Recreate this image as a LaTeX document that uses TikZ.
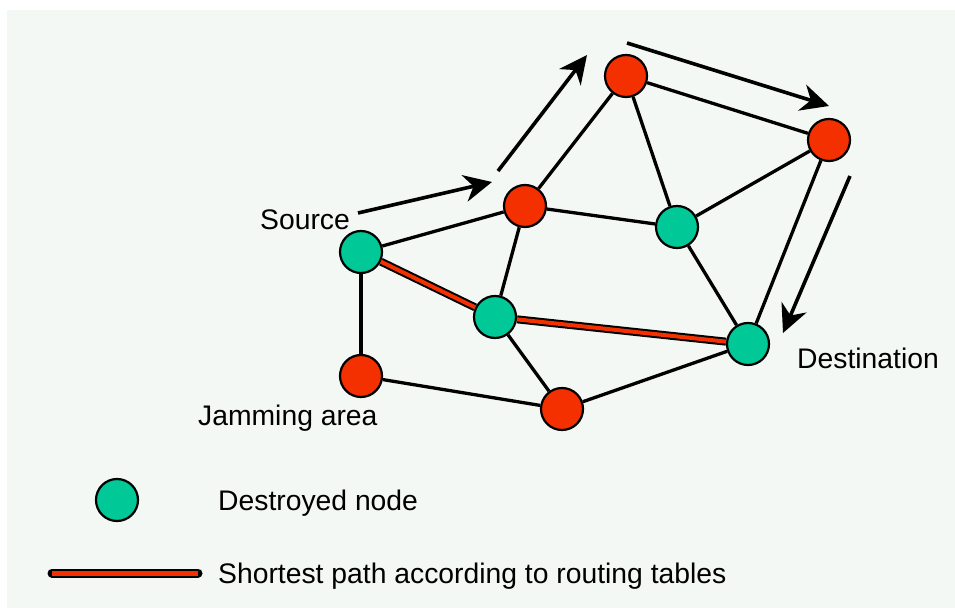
\documentclass[tikz,border=0pt]{standalone}
\usepackage{fontspec}
\setmainfont{Liberation Sans}
\usepackage{xcolor}
\usetikzlibrary{arrows.meta, positioning, calc}

\definecolor{jamred}{HTML}{F53000}
\definecolor{deadgreen}{HTML}{00C896}
\definecolor{paper}{HTML}{F4F8F4}

\begin{document}
\begin{tikzpicture}[
    x=1pt, y=-1pt,
    font=\fontsize{28.3}{34}\selectfont,
    alive/.style={circle, draw, line width=2.2pt, fill=jamred, minimum size=42pt, inner sep=0pt},
    destroyed/.style={alive, fill=deadgreen},
    link/.style={line width=3.3pt},
    route/.style={line width=8pt, black},
    routein/.style={line width=4pt, jamred},
    flow/.style={-{Stealth[length=28pt, width=27pt, inset=9pt]}, line width=3.6pt},
    label/.style={anchor=base west, inner sep=0pt}
]
\useasboundingbox (0,0) rectangle (955,609);
\fill[paper] (7,10) rectangle (955,608);

% Network
\node[destroyed] (src) at (361,252) {};
\node[alive] (jam) at (361,376) {};
\node[alive] (low) at (562,409) {};
\node[destroyed] (mid) at (495,317) {};
\node[alive] (up) at (525,206) {};
\node[alive] (top) at (626,76) {};
\node[destroyed] (cen) at (677,227) {};
\node[alive] (rgt) at (829,140) {};
\node[destroyed] (dst) at (748,344) {};

\draw[link] (src) -- (up);
\draw[link] (src) -- (jam);
\draw[link] (mid) -- (up);
\draw[link] (mid) -- (low);
\draw[link] (jam) -- (low);
\draw[link] (low) -- (dst);
\draw[link] (up) -- (top);
\draw[link] (up) -- (cen);
\draw[link] (top) -- (cen);
\draw[link] (top) -- (rgt);
\draw[link] (cen) -- (rgt);
\draw[link] (cen) -- (dst);
\draw[link] (rgt) -- (dst);

% Shortest path
\draw[route] (src) -- (mid);
\draw[route] (mid) -- (dst);
\draw[routein] (src) -- (mid);
\draw[routein] (mid) -- (dst);

% Detour arrows
\coordinate (a1s) at (358,213);
\coordinate (a1e) at (492,182);
\coordinate (a2s) at (498,171);
\coordinate (a2e) at (587,55);
\coordinate (a3s) at (627,43);
\coordinate (a3e) at (829,106);
\coordinate (a4s) at (850,176);
\coordinate (a4e) at (783,333);
\draw[flow] (a1s) -- (a1e);
\draw[flow] (a2s) -- (a2e);
\draw[flow] (a3s) -- (a3e);
\draw[flow] (a4s) -- (a4e);

% Labels
\node[label] (srclabel) at (260,230) {Source};
\node[label] (jamlabel) at (198,425) {Jamming area};
\node[label] (dstlabel) at (797,368) {Destination};

% Legend
\node[destroyed] (keynode) at (117,500) {};
\node[label] (keynodetext) at (218,510) {Destroyed node};
\coordinate (keyl) at (52,573);
\coordinate (keyr) at (198,573);
\draw[line width=9pt, line cap=round] (keyl) -- (keyr);
\draw[line width=5pt, jamred] (keyl) -- (keyr);
\node[label] (keylinetext) at (218,583) {Shortest path according to routing tables};

\end{tikzpicture}
\end{document}
